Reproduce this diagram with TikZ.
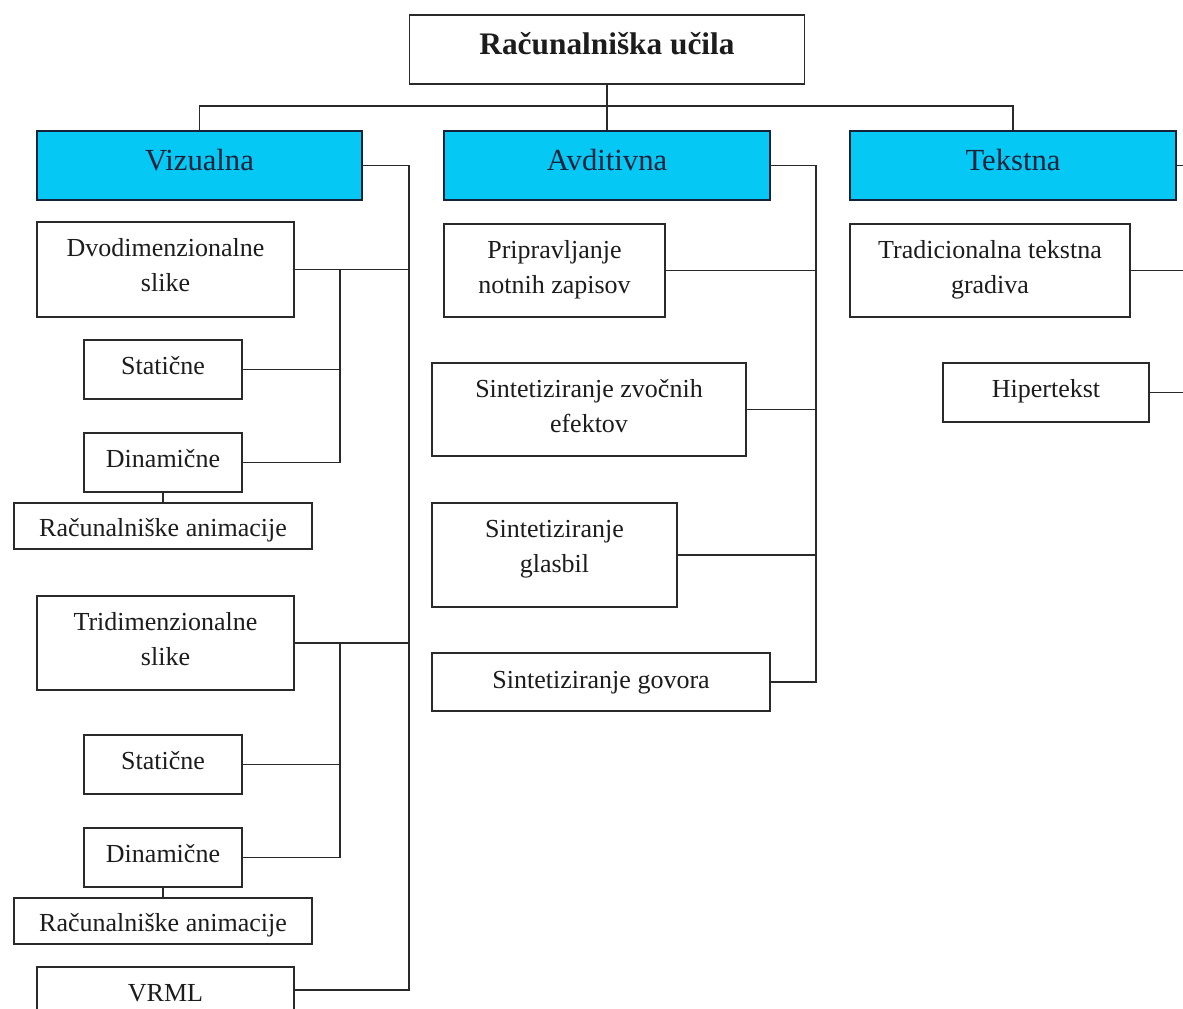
\documentclass[tikz,border=0pt]{standalone}
\usepackage{fontspec}
\setmainfont{Liberation Serif}
\usepackage{xcolor}
\usetikzlibrary{calc}
\definecolor{line}{HTML}{2A2A2A}
\definecolor{head}{HTML}{05C8F5}
\definecolor{ink}{HTML}{1C1C1C}
\definecolor{headink}{HTML}{14233A}
\newcommand{\boxtext}[2]{\raisebox{#1}[\height][\depth]{\begin{tabular}{@{}c@{}}#2\end{tabular}}}
\tikzset{
  sz/.style 2 args={minimum width=#1*0.75pt, minimum height=#2*0.75pt},
  box/.style={draw=line, line width=1.1pt, fill=white, text=ink, inner sep=0pt,
    font=\fontsize{19.5}{26}\selectfont},
  headbox/.style={box, fill=head, draw=headink, text=headink, font=\fontsize{23}{28}\selectfont},
  rootbox/.style={box, font=\fontsize{23.5}{28}\selectfont\bfseries},
  wire/.style={draw=line, line width=1.1pt},
}

\begin{document}
\begin{tikzpicture}[x=0.75pt,y=-0.75pt]
  \useasboundingbox (0,0) rectangle (1183,1009);
  \clip (0,0) rectangle (1183,1009);
  \fill[white] (0,0) rectangle (1183,1009);

  \node[rootbox,sz={395}{69}] (root) at (607,49.5) {\boxtext{2.1pt}{Računalniška učila}};
  \node[headbox,sz={325}{69}] (viz) at (199.5,165.5) {\boxtext{2.1pt}{Vizualna}};
  \node[headbox,sz={326}{69}] (avd) at (607,165.5) {\boxtext{2.1pt}{Avditivna}};
  \node[headbox,sz={326}{69}] (tek) at (1013,165.5) {\boxtext{2.1pt}{Tekstna}};

  \node[box,sz={257}{95}] (dvo) at (165.5,269.5) {\boxtext{1.7pt}{Dvodimenzionalne\\slike}};
  \node[box,sz={158}{59}] (sta1) at (163,369.5) {\boxtext{1.35pt}{Statične}};
  \node[box,sz={158}{59}] (din1) at (163,462.5) {\boxtext{1.35pt}{Dinamične}};
  \node[box,sz={298}{46}] (ani1) at (163,526) {\boxtext{-2.8pt}{Računalniške animacije}};
  \node[box,sz={257}{94}] (tri) at (165.5,643) {\boxtext{1.35pt}{Tridimenzionalne\\slike}};
  \node[box,sz={158}{59}] (sta2) at (163,764.5) {\boxtext{1.35pt}{Statične}};
  \node[box,sz={158}{59}] (din2) at (163,857.5) {\boxtext{1.35pt}{Dinamične}};
  \node[box,sz={298}{46}] (ani2) at (163,921) {\boxtext{-2.8pt}{Računalniške animacije}};
  \node[box,sz={257}{46}] (vrml) at (165.5,990) {\boxtext{-3.5pt}{VRML}};

  \node[box,sz={221}{93}] (pri) at (554.5,270.5) {\boxtext{1pt}{Pripravljanje\\notnih zapisov}};
  \node[box,sz={314}{93}] (zvo) at (589,409.5) {\boxtext{1pt}{Sintetiziranje zvočnih\\efektov}};
  \node[box,sz={245}{104}] (gla) at (554.5,555) {\boxtext{5.1pt}{Sintetiziranje\\glasbil}};
  \node[box,sz={338}{58}] (gov) at (601,682) {\boxtext{0pt}{Sintetiziranje govora}};

  \node[box,sz={280}{93}] (tra) at (990,270.5) {\boxtext{1pt}{Tradicionalna tekstna\\gradiva}};
  \node[box,sz={206}{59}] (hip) at (1046,392.5) {\boxtext{1.35pt}{Hipertekst}};

  \coordinate (bus) at (607,106);
  \draw[wire] (viz.north) |- (bus) -| (tek.north);
  \draw[wire] (root) -- (avd);

  \coordinate (vspine) at (409,0);
  \coordinate (vsub) at (340,0);
  \draw[wire] (viz.east) -| (vspine |- vrml.east) -- (vrml.east);
  \foreach \b in {dvo,tri}
    \draw[wire] (\b.east) -- (\b.east -| vspine);
  \foreach \a/\b in {dvo/sta1,dvo/din1,tri/sta2,tri/din2}
    \draw[wire] (\b.east) -| (\a.east -| vsub);
  \foreach \a/\b in {din1/ani1,din2/ani2}
    \draw[wire] (\a) -- (\b);

  \coordinate (aspine) at (816,0);
  \draw[wire] (avd.east) -| (aspine |- gov.east) -- (gov.east);
  \foreach \b in {pri,zvo,gla}
    \draw[wire] (\b.east) -- (\b.east -| aspine);

  \coordinate (tspine) at (1200,0);
  \foreach \b in {tek,tra,hip}
    \draw[wire] (\b.east) -- (\b.east -| tspine);
\end{tikzpicture}
\end{document}
